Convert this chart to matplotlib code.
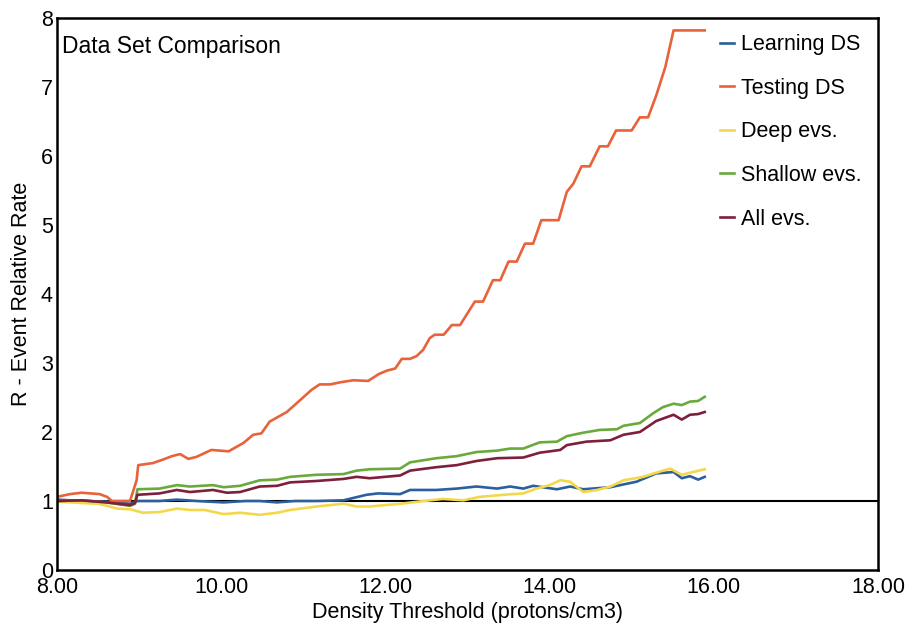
import matplotlib
matplotlib.use('Agg')
import matplotlib.pyplot as plt

plt.rcParams['font.family'] = ['Liberation Sans', 'DejaVu Sans']

# Testing DS (orange)
test_x = [8.00, 8.16, 8.30, 8.52, 8.61, 8.67, 8.89, 8.97, 8.99, 9.17, 9.29, 9.40, 9.50,
          9.60, 9.70, 9.88, 10.09, 10.27, 10.39, 10.49, 10.59, 10.80, 10.96, 11.10,
          11.20, 11.33, 11.45, 11.61, 11.79, 11.92, 12.02, 12.12, 12.20, 12.30, 12.38,
          12.46, 12.54, 12.60, 12.71, 12.81, 12.91, 13.09, 13.19, 13.31, 13.40, 13.50,
          13.60, 13.70, 13.80, 13.90, 14.11, 14.21, 14.29, 14.39, 14.49, 14.61, 14.71,
          14.81, 15.00, 15.10, 15.20, 15.30, 15.41, 15.51, 15.89]
test_y = [1.06, 1.10, 1.12, 1.10, 1.06, 1.00, 1.00, 1.30, 1.52, 1.55, 1.60, 1.65, 1.68,
          1.61, 1.64, 1.74, 1.72, 1.84, 1.96, 1.98, 2.15, 2.29, 2.46, 2.61,
          2.69, 2.69, 2.72, 2.75, 2.74, 2.84, 2.89, 2.92, 3.06, 3.06, 3.10,
          3.19, 3.36, 3.41, 3.41, 3.55, 3.55, 3.89, 3.89, 4.20, 4.20, 4.47,
          4.47, 4.73, 4.73, 5.07, 5.07, 5.48, 5.60, 5.85, 5.85, 6.14, 6.14,
          6.37, 6.37, 6.56, 6.56, 6.88, 7.29, 7.82, 7.82]

# Shallow evs. (green)
shal_x = [8.00, 8.30, 8.60, 8.89, 8.95, 8.98, 9.25, 9.46, 9.62, 9.90, 10.03, 10.23, 10.47,
          10.68, 10.84, 11.16, 11.49, 11.65, 11.81, 12.18, 12.30, 12.62, 12.87, 13.11,
          13.36, 13.52, 13.68, 13.88, 14.09, 14.21, 14.41, 14.61, 14.82, 14.90, 15.10,
          15.26, 15.38, 15.51, 15.61, 15.71, 15.81, 15.89]
shal_y = [1.00, 1.01, 0.98, 0.93, 0.96, 1.17, 1.18, 1.23, 1.21, 1.23, 1.20, 1.22, 1.30,
          1.31, 1.35, 1.38, 1.39, 1.44, 1.46, 1.47, 1.56, 1.62, 1.65, 1.71,
          1.73, 1.76, 1.76, 1.85, 1.86, 1.94, 1.99, 2.03, 2.04, 2.09, 2.13,
          2.27, 2.36, 2.41, 2.39, 2.44, 2.45, 2.51]

# All evs. (maroon)
all_x = [8.00, 8.30, 8.60, 8.89, 8.95, 8.98, 9.25, 9.46, 9.62, 9.90, 10.07, 10.23, 10.47,
         10.68, 10.84, 11.16, 11.49, 11.65, 11.81, 12.18, 12.30, 12.62, 12.87, 13.11,
         13.36, 13.68, 13.88, 14.13, 14.21, 14.45, 14.74, 14.90, 15.10, 15.30, 15.51,
         15.61, 15.71, 15.81, 15.89]
all_y = [1.00, 1.01, 0.98, 0.94, 0.97, 1.09, 1.11, 1.16, 1.13, 1.16, 1.12, 1.13, 1.21,
         1.22, 1.27, 1.29, 1.32, 1.35, 1.33, 1.37, 1.44, 1.49, 1.52, 1.58,
         1.62, 1.63, 1.70, 1.74, 1.81, 1.86, 1.88, 1.96, 2.00, 2.16, 2.25,
         2.18, 2.25, 2.26, 2.29]

# Learning DS (blue)
learn_x = [8.00, 8.30, 8.60, 8.89, 8.98, 9.25, 9.46, 9.70, 10.03, 10.30, 10.47, 10.68,
           10.90, 11.16, 11.49, 11.77, 11.91, 12.18, 12.30, 12.62, 12.87, 13.11, 13.36,
           13.52, 13.68, 13.80, 14.09, 14.25, 14.41, 14.74, 15.06, 15.30, 15.51, 15.61,
           15.71, 15.81, 15.89]
learn_y = [1.02, 1.00, 0.99, 0.96, 1.00, 1.00, 1.02, 1.00, 0.98, 1.00, 1.00, 0.98,
           1.00, 1.00, 1.01, 1.09, 1.11, 1.10, 1.16, 1.16, 1.18, 1.21, 1.18,
           1.21, 1.18, 1.22, 1.17, 1.21, 1.17, 1.20, 1.28, 1.40, 1.42, 1.33,
           1.36, 1.31, 1.35]

# Deep evs. (yellow)
deep_x = [8.00, 8.16, 8.50, 8.61, 8.73, 8.89, 9.05, 9.25, 9.46, 9.62, 9.80, 10.03, 10.23,
          10.47, 10.68, 10.84, 11.16, 11.49, 11.65, 11.81, 12.18, 12.54, 12.70, 12.95,
          13.15, 13.44, 13.68, 13.84, 14.00, 14.13, 14.25, 14.41, 14.58, 14.74, 14.90,
          15.14, 15.38, 15.47, 15.61, 15.71, 15.89]
deep_y = [0.99, 0.98, 0.96, 0.93, 0.89, 0.88, 0.83, 0.84, 0.89, 0.87, 0.87, 0.81, 0.83,
          0.80, 0.83, 0.87, 0.92, 0.96, 0.92, 0.92, 0.96, 1.01, 1.03, 1.01,
          1.06, 1.09, 1.11, 1.18, 1.23, 1.30, 1.28, 1.13, 1.16, 1.21, 1.30,
          1.35, 1.44, 1.47, 1.38, 1.41, 1.46]

series = [
    ('Learning DS', learn_x, learn_y, '#2b5f9e'),
    ('Testing DS', test_x, test_y, '#e8623a'),
    ('Deep evs.', deep_x, deep_y, '#f3d84b'),
    ('Shallow evs.', shal_x, shal_y, '#6aa93c'),
    ('All evs.', all_x, all_y, '#7e1f3c'),
]

fig = plt.figure(figsize=(9.1, 6.27), dpi=100)
ax = fig.add_axes([0.0626, 0.0909, 0.9022, 0.8804])

ax.axhline(1, color='black', linewidth=1.5, zorder=1)
for label, xs, ys, color in series:
    ax.plot(xs, ys, color=color, linewidth=1.9, label=label, zorder=2)

ax.set_xlim(8, 18)
ax.set_ylim(0, 8)
ax.set_xticks([8, 10, 12, 14, 16, 18])
ax.set_xticklabels(['8.00', '10.00', '12.00', '14.00', '16.00', '18.00'])
ax.set_yticks(range(0, 9))
ax.tick_params(length=0, labelsize=15.5)
ax.tick_params(axis='x', pad=5)
ax.tick_params(axis='y', pad=3)
for s in ax.spines.values():
    s.set_linewidth(1.8)

ax.set_xlabel('Density Threshold (protons/cm3)', fontsize=15.5, labelpad=3)
ax.set_ylabel('R - Event Relative Rate', fontsize=15.5, labelpad=6)
ax.text(0.006, 0.969, 'Data Set Comparison', transform=ax.transAxes,
        fontsize=16.5, va='top', ha='left')

ax.legend(loc='upper right', frameon=False, fontsize=15.5, handlelength=0.65,
          handletextpad=0.35, labelspacing=1.05, borderaxespad=0.35)

fig.savefig('out.png', dpi=100)
